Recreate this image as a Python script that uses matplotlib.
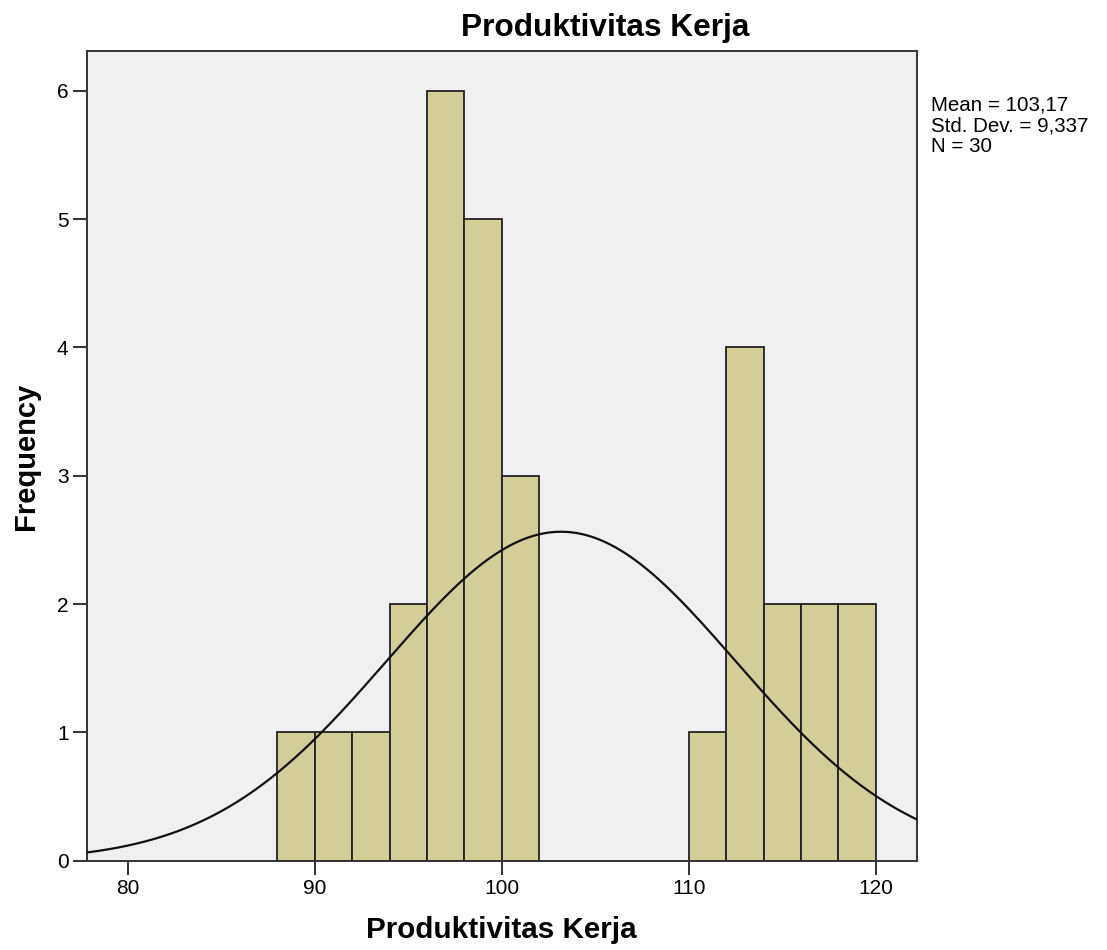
import numpy as np
import matplotlib
matplotlib.use("Agg")
import matplotlib.pyplot as plt

plt.rcParams["font.family"] = ["Liberation Sans", "DejaVu Sans"]

# histogram data (bin width 2)
bin_edges = [88, 90, 92, 94, 96, 98, 100, 102, 104, 106, 108, 110, 112, 114, 116, 118, 120]
counts = [1, 1, 1, 2, 6, 5, 3, 0, 0, 0, 0, 1, 4, 2, 2, 2]
mean = 103.17
std_dev = 9.337
n_obs = 30
x_ticks = [80, 90, 100, 110, 120]
y_ticks = [0, 1, 2, 3, 4, 5, 6]

fig = plt.figure(figsize=(11.07, 9.5), dpi=100)
ax = fig.add_axes([0.0783, 0.094, 0.7503, 0.8523])
ax.set_facecolor("#f0f0f0")

lefts = bin_edges[:-1]
widths = np.diff(bin_edges)
ax.bar(lefts, counts, width=widths, align="edge", color="#d3ce98",
       edgecolor="#222222", linewidth=1.3, zorder=2)

# normal curve
xs = np.linspace(77.8, 122.22, 400)
bw = bin_edges[1] - bin_edges[0]
ys = n_obs * bw / (std_dev * np.sqrt(2 * np.pi)) * np.exp(-0.5 * ((xs - mean) / std_dev) ** 2)
ax.plot(xs, ys, color="#111111", linewidth=1.6, zorder=3)

ax.set_xlim(77.8, 122.22)
ax.set_ylim(0, 6.31)
ax.set_xticks(x_ticks)
ax.set_yticks(y_ticks)
ax.tick_params(direction="out", length=10, width=1.3, color="#222222",
               labelsize=15, pad=3)
for s in ax.spines.values():
    s.set_color("#333333")
    s.set_linewidth(1.4)

fig.text(0.5467, 0.971, "Produktivitas Kerja", ha="center", va="center",
         fontsize=22.8, fontweight="bold")
fig.text(0.4533, 0.006, "Produktivitas Kerja", ha="center", va="bottom",
         fontsize=21.3, fontweight="bold")
fig.text(0.011, 0.52, "Frequency", ha="left", va="center", rotation=90,
         fontsize=21, fontweight="bold")

stats = f"Mean = {mean:.2f}".replace(".", ",") + "\n" + \
        f"Std. Dev. = {std_dev:.3f}".replace("9.", "9,") + "\n" + f"N = {n_obs}"
fig.text(0.841, 0.899, stats, ha="left", va="top", fontsize=14.8, linespacing=1.1)

fig.savefig("out.png", dpi=100)
